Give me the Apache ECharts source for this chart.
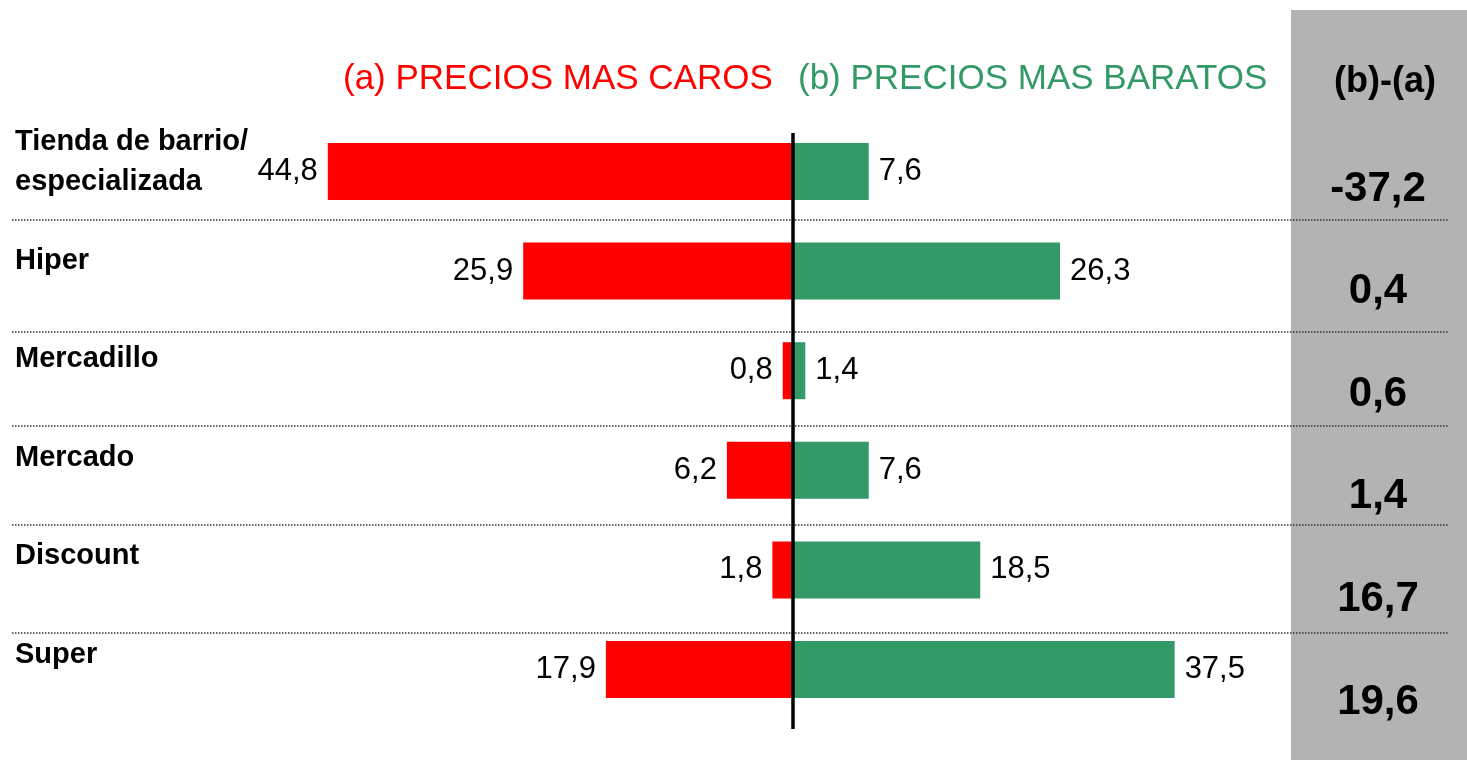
<!DOCTYPE html>
<html>
<head>
<meta charset="utf-8">
<script src="https://cdn.jsdelivr.net/npm/echarts@6/dist/echarts.min.js"></script>
<style>
  html, body { margin: 0; padding: 0; background: #fff; }
  #main { width: 1467px; height: 760px; }
</style>
</head>
<body>
<div id="main"></div>
<script>
// datos
var categories = ['Tienda de barrio/\nespecializada', 'Hiper', 'Mercadillo', 'Mercado', 'Discount', 'Super'];
var caros = [44.8, 25.9, 0.8, 6.2, 1.8, 17.9];      // (a) precios mas caros
var baratos = [7.6, 26.3, 1.4, 7.6, 18.5, 37.5];    // (b) precios mas baratos
var diferencia = [-37.2, 0.4, 0.6, 1.4, 16.7, 19.6]; // (b)-(a)

var FONT = '"Liberation Sans", Arial, sans-serif';
var RED = '#ff0000';
var GREEN = '#339966';

// coma decimal
var fmt = function (v) { return String(v).replace('.', ','); };

// lineas punteadas entre filas
var separadores = [220, 332, 426, 525, 633];

var myChart = echarts.init(document.getElementById('main'));

var graphics = [
    // panel gris (b)-(a)
    { type: 'rect', z: 0, shape: { x: 1291, y: 10, width: 176, height: 750 }, style: { fill: '#b3b3b3' } }
];
separadores.forEach(function (y) {
    graphics.push({
        type: 'line', z: 1,
        shape: { x1: 12, y1: y, x2: 1449, y2: y },
        style: { stroke: '#333', lineWidth: 1.5, lineDash: [1.5, 1.5] }
    });
});
graphics.push(
    // eje central
    { type: 'line', z: 20, shape: { x1: 793, y1: 133, x2: 793, y2: 729 }, style: { stroke: '#000', lineWidth: 3.5 } },
    { type: 'text', z: 5, x: 343, y: 79, style: { text: '(a) PRECIOS MAS CAROS', fill: RED, font: '35px ' + FONT, align: 'left', verticalAlign: 'middle' } },
    { type: 'text', z: 5, x: 798, y: 79, style: { text: '(b) PRECIOS MAS BARATOS', fill: GREEN, font: '35px ' + FONT, align: 'left', verticalAlign: 'middle' } },
    { type: 'text', z: 5, x: 1385, y: 82, style: { text: '(b)-(a)', fill: '#000', font: 'bold 36px ' + FONT, align: 'center', verticalAlign: 'middle' } }
);

myChart.setOption({
    animation: false,
    backgroundColor: '#fff',
    textStyle: { fontFamily: FONT },
    graphic: graphics,
    grid: [
        // barras rojas (hacia la izquierda)
        { left: 274, width: 517, top: 121.7, height: 597.6, outerBoundsMode: 'none' },
        // barras verdes
        { left: 791, width: 409.2, top: 121.7, height: 597.6, outerBoundsMode: 'none' },
        // etiquetas de categoria
        { left: 20, width: 100, top: 113, height: 590.8, outerBoundsMode: 'none' },
        // columna (b)-(a)
        { left: 1338, width: 80, top: 137.7, height: 615.6, outerBoundsMode: 'none' }
    ],
    xAxis: [
        { gridIndex: 0, type: 'value', min: 0, max: 50, inverse: true, show: false },
        { gridIndex: 1, type: 'value', min: 0, max: 40, show: false },
        { gridIndex: 2, type: 'value', min: 0, max: 1, show: false },
        { gridIndex: 3, type: 'value', min: 0, max: 1, show: false }
    ],
    yAxis: [
        { gridIndex: 0, type: 'category', data: categories, inverse: true, show: false },
        { gridIndex: 1, type: 'category', data: categories, inverse: true, show: false },
        {
            gridIndex: 2, type: 'category', data: categories, inverse: true,
            axisLine: { show: false },
            axisTick: { show: false },
            splitLine: { show: false },
            axisLabel: {
                align: 'left',
                margin: 5,
                fontSize: 29,
                fontWeight: 'bold',
                lineHeight: 40,
                color: '#000',
                fontFamily: FONT
            }
        },
        { gridIndex: 3, type: 'category', data: categories, inverse: true, show: false }
    ],
    series: [
        {
            name: '(a) PRECIOS MAS CAROS',
            type: 'bar',
            xAxisIndex: 0, yAxisIndex: 0,
            data: caros,
            barWidth: 57,
            itemStyle: { color: RED },
            label: {
                show: true,
                position: 'left',
                distance: 10,
                fontSize: 31,
                color: '#000',
                fontFamily: FONT,
                formatter: function (p) { return fmt(p.value); }
            }
        },
        {
            name: '(b) PRECIOS MAS BARATOS',
            type: 'bar',
            xAxisIndex: 1, yAxisIndex: 1,
            data: baratos,
            barWidth: 57,
            itemStyle: { color: GREEN },
            label: {
                show: true,
                position: 'right',
                distance: 10,
                fontSize: 31,
                color: '#000',
                fontFamily: FONT,
                formatter: function (p) { return fmt(p.value); }
            }
        },
        {
            name: '(b)-(a)',
            type: 'scatter',
            xAxisIndex: 3, yAxisIndex: 3,
            data: diferencia.map(function (v, i) { return [0.5, i]; }),
            symbolSize: 2,
            itemStyle: { color: 'rgba(0,0,0,0)' },
            z: 10,
            label: {
                show: true,
                position: 'inside',
                fontSize: 42,
                fontWeight: 'bold',
                color: '#000',
                opacity: 1,
                textBorderWidth: 0,
                fontFamily: FONT,
                formatter: function (p) { return fmt(diferencia[p.dataIndex]); }
            }
        }
    ]
});
</script>
</body>
</html>
